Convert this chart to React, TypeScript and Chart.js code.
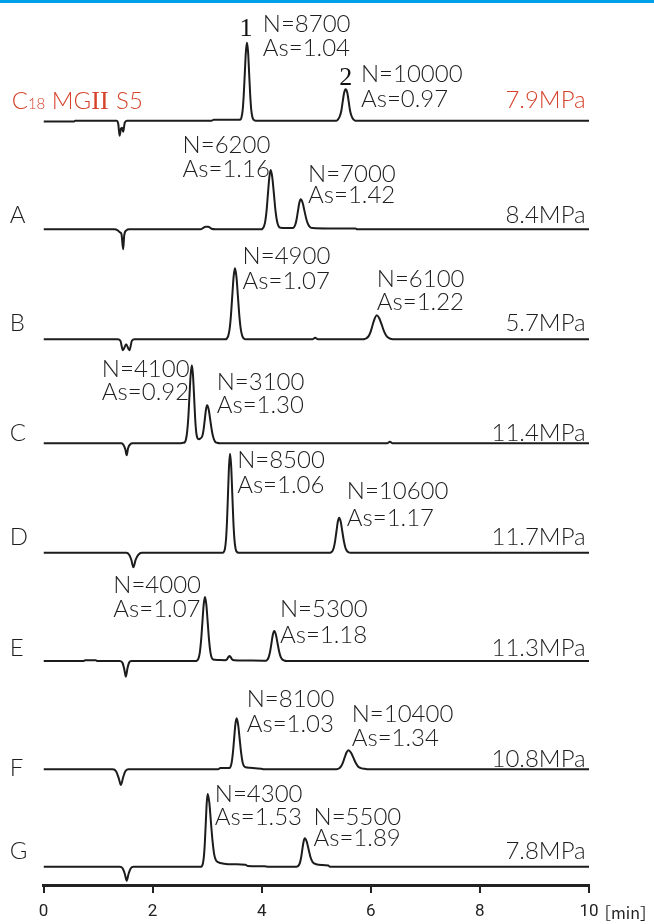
import React, { useEffect, useRef } from 'react';
import { Chart, registerables } from 'chart.js';

Chart.register(...registerables);

// ---------- axis ----------
const X_MIN = 0;
const X_MAX = 10;
const X_TICKS = [0, 2, 4, 6, 8, 10];
const X_UNIT = '［min］';

// ---------- chromatograms: [time (min), signal] ----------
const TRACE_C18: number[][] = [
  [0, -0.8], [0.56, -0.8], [0.58, 0], [1.34, 0], [1.37, -3], [1.395, -15], [1.42, -8], [1.44, -7], [1.46, -11], [1.49, -2], [1.53, 0],
  [3.08, 0], [3.12, 1], [3.58, 1], [3.61, 1.2], [3.63, 3.5], [3.65, 10], [3.67, 25], [3.69, 47], [3.71, 69], [3.73, 78],
  [3.75, 69], [3.77, 47], [3.79, 25], [3.81, 10], [3.83, 3.5], [3.85, 1], [3.89, 0],
  [5.37, 0], [5.40, 1.4], [5.43, 4.2], [5.46, 10], [5.485, 19], [5.51, 27.7], [5.54, 31.4], [5.57, 27.7], [5.595, 19],
  [5.62, 10], [5.65, 4.2], [5.68, 1.4], [5.72, 0], [10, 0],
];
const TRACE_A: number[][] = [
  [0, 0], [1.30, 0], [1.36, -1], [1.40, -3], [1.43, -5], [1.46, -20], [1.48, -6], [1.52, -1], [1.57, 0],
  [2.88, 0], [2.93, 1.5], [2.97, 2.5], [3.02, 2.5], [3.08, 0.5], [3.15, 0],
  [4.0, 0], [4.015, 0.7], [4.04, 2.7], [4.065, 8], [4.09, 19], [4.115, 36], [4.14, 52], [4.165, 59.3], [4.194, 52],
  [4.223, 36], [4.252, 19], [4.281, 8], [4.31, 3], [4.345, 1.5], [4.45, 1.2],
  [4.565, 1.3], [4.59, 2], [4.615, 4.5], [4.64, 10], [4.665, 18.5], [4.69, 26.5], [4.715, 30], [4.75, 26.5], [4.785, 18.2],
  [4.82, 9.8], [4.855, 4.5], [4.89, 2], [4.935, 1.2], [5.2, 0.8], [5.72, 0.8], [5.75, 0], [10, 0],
];
const TRACE_B: number[][] = [
  [0, 0], [1.36, 0], [1.41, -1.5], [1.455, -11], [1.515, -5], [1.575, -11], [1.62, -1.5], [1.67, 0],
  [3.34, 0], [3.36, 0.8], [3.385, 3.2], [3.41, 9.6], [3.435, 23], [3.46, 43], [3.485, 62.5], [3.51, 71], [3.537, 62.5],
  [3.564, 43], [3.591, 23], [3.618, 9.6], [3.645, 3.2], [3.672, 0.8], [3.71, 0],
  [4.93, 0], [4.98, 1.5], [5.03, 0],
  [5.86, 0], [5.885, 0.3], [5.92, 1.1], [5.96, 3.2], [5.9975, 7.7], [6.035, 14.6], [6.0725, 21], [6.11, 24], [6.155, 21],
  [6.2, 14.6], [6.245, 7.7], [6.29, 3.2], [6.335, 1.1], [6.38, 0.3], [6.42, 0], [10, 0],
];
const TRACE_C: number[][] = [
  [0, 0], [1.43, 0], [1.47, -2], [1.5, -6], [1.525, -12], [1.55, -5], [1.59, -1], [1.63, 0],
  [2.51, 0], [2.56, 0.5], [2.588, 0.9], [2.61, 3.5], [2.632, 10.9], [2.654, 25], [2.676, 47.6], [2.698, 68.6], [2.72, 78],
  [2.74, 68.6], [2.76, 47.6], [2.78, 25], [2.8, 11], [2.82, 5.5], [2.85, 4], [2.88, 5], [2.91, 7], [2.9325, 13], [2.955, 23],
  [2.9775, 33.5], [3.0, 38], [3.029, 33.5], [3.058, 23], [3.087, 12.3], [3.116, 5.3], [3.145, 1.7], [3.18, 0.5], [3.24, 0],
  [6.3, 0], [6.35, 1.5], [6.4, 0], [10, 0],
];
const TRACE_D: number[][] = [
  [0, 0], [1.52, 0], [1.57, -2], [1.61, -7], [1.646, -14.6], [1.69, -7], [1.74, -2], [1.8, 0],
  [3.29, 0], [3.309, 1.1], [3.3275, 4.4], [3.346, 13.4], [3.3645, 32], [3.383, 60], [3.4015, 87], [3.42, 99], [3.44, 87],
  [3.46, 60], [3.48, 32], [3.5, 13.4], [3.52, 4.4], [3.54, 1.1], [3.58, 0],
  [5.25, 0], [5.27, 0.4], [5.295, 1.5], [5.32, 4.7], [5.345, 11.4], [5.37, 21.2], [5.395, 30.9], [5.42, 35], [5.449, 30.9],
  [5.478, 21.2], [5.507, 11.4], [5.536, 4.7], [5.565, 1.5], [5.594, 0.4], [5.63, 0], [10, 0],
];
const TRACE_E: number[][] = [
  [0, 0], [0.74, 0], [0.76, 0.8], [0.96, 0.8], [0.98, 0], [1.4, 0], [1.45, -2], [1.48, -8], [1.51, -15.7], [1.54, -7], [1.57, -1.5], [1.61, 0],
  [2.8, 0], [2.819, 0.7], [2.8425, 2.8], [2.866, 8.7], [2.8895, 20.8], [2.913, 38.8], [2.9365, 56.4], [2.96, 64], [2.985, 56.4],
  [3.01, 38.8], [3.035, 20.8], [3.06, 8.7], [3.085, 3], [3.11, 1.5], [3.2, 1], [3.33, 0.8],
  [3.36, 1.5], [3.39, 4], [3.41, 5], [3.43, 4], [3.46, 1.5], [3.5, 0.8], [3.7, 0.5], [4.03, 0.3],
  [4.08, 0.3], [4.105, 1.3], [4.13, 4.1], [4.155, 9.8], [4.18, 18.2], [4.205, 26.5], [4.23, 30], [4.2595, 26.5], [4.289, 18.2],
  [4.3185, 9.8], [4.348, 4.1], [4.3775, 1.5], [4.41, 0.6], [4.45, 0], [10, 0],
];
const TRACE_F: number[][] = [
  [0, 0], [1.27, 0], [1.33, -2], [1.38, -9], [1.42, -15.7], [1.46, -8], [1.5, -2], [1.55, 0],
  [3.2, 0], [3.24, 1.2], [3.38, 1.2], [3.405, 1.2], [3.4275, 2.5], [3.45, 6.9], [3.4725, 16.6], [3.495, 31], [3.5175, 45], [3.54, 51],
  [3.5675, 45], [3.595, 31], [3.6225, 16.6], [3.65, 6.9], [3.6775, 3], [3.705, 2], [3.79, 1.5], [3.99, 0.5], [4.04, 0],
  [5.37, 0], [5.38, 0.2], [5.415, 0.8], [5.45, 2.6], [5.485, 6.2], [5.52, 11.6], [5.555, 16.8], [5.59, 19], [5.635, 16.8],
  [5.68, 11.6], [5.725, 6.2], [5.77, 2.6], [5.815, 1.2], [5.89, 0.5], [5.95, 0], [10, 0],
];
const TRACE_G: number[][] = [
  [0, 0], [1.4, 0], [1.45, -1.5], [1.49, -7], [1.525, -14], [1.56, -7], [1.6, -1.5], [1.65, 0],
  [2.89, 0], [2.905, 0.8], [2.9225, 3.3], [2.94, 10], [2.9575, 23.6], [2.975, 44], [2.9925, 64], [3.01, 72.7], [3.04, 64],
  [3.07, 44], [3.1, 25], [3.13, 12], [3.16, 6.5], [3.2, 4.5], [3.31, 3], [3.5, 2.4], [3.7, 2], [3.74, 0.8], [4.05, 0.5], [4.12, 0],
  [4.64, 0], [4.655, 0.3], [4.6775, 1.3], [4.7, 3.8], [4.7225, 9.2], [4.745, 17.3], [4.7675, 25], [4.79, 28.4], [4.825, 25],
  [4.86, 17.3], [4.895, 9.5], [4.93, 5], [4.97, 3], [5.04, 2], [5.22, 1.2], [5.25, 0], [10, 0],
];
const TRACES = [TRACE_C18, TRACE_A, TRACE_B, TRACE_C, TRACE_D, TRACE_E, TRACE_F, TRACE_G];

// ---------- text ----------
const COLUMN_NAME = ['C', '18', ' MG', 'II', ' S5'];
const TRACE_LETTERS = ['', 'A', 'B', 'C', 'D', 'E', 'F', 'G'];
const PRESSURES = ['7.9MPa', '8.4MPa', '5.7MPa', '11.4MPa', '11.7MPa', '11.3MPa', '10.8MPa', '7.8MPa'];
const PLATES = [
  ['8700', '10000'], ['6200', '7000'], ['4900', '6100'], ['4100', '3100'],
  ['8500', '10600'], ['4000', '5300'], ['8100', '10400'], ['4300', '5500'],
];
const ASYM = [
  ['1.04', '0.97'], ['1.16', '1.42'], ['1.07', '1.22'], ['0.92', '1.30'],
  ['1.06', '1.17'], ['1.07', '1.18'], ['1.03', '1.34'], ['1.53', '1.89'],
];
const PEAK_NUMBERS = ['1', '2'];

// ---------- layout (signal units = px) ----------
const TRACE_BASELINES = [764.3, 655.7, 545.7, 441.7, 332.3, 224, 115.7, 18.3];
// [time of text left edge, height of "N=" baseline, height of "As=" baseline]
const NOTE_POS = [
  [[4.02, 88.4, 64.7], [5.82, 39, 14]],
  [[2.55, 76, 52.6], [4.85, 47.6, 26]],
  [[3.65, 75, 50], [6.11, 52.6, 29.3]],
  [[1.07, 66.6, 43.3], [3.175, 53.3, 30]],
  [[3.55, 84.4, 59.4], [5.56, 53.4, 27]],
  [[1.28, 67.7, 44.3], [4.335, 44.3, 18.3]],
  [[3.725, 62.6, 37.6], [5.65, 47.6, 23.3]],
  [[3.14, 65, 41.7], [4.95, 41.7, 20.7]],
];
const PEAK_NUMBER_POS = [[3.71, 84.7], [5.54, 35.7]];
const LETTER_H = [11.4, 6.8, 8.8, 2.8, 8.2, 5.5, -7, 8.2];
const PRESSURE_H = [12.4, 6.8, 8.8, 2.8, 8.2, 5.5, 2.8, 8.2];
const LEFT_T = -0.62;
const RIGHT_T = 9.94;

const SANS = 'Lato, "Liberation Sans", sans-serif';
const SERIF = '"Liberation Serif", "DejaVu Serif", serif';
const TICK_FONT = '"Liberation Sans Narrow", "Roboto", sans-serif';
const INK = '#1e1e1e';
const RED = '#d6432c';

const textPlugin = {
  id: 'chromaText',
  afterDatasetsDraw(chart: any) {
    const { ctx, scales } = chart;
    const x = scales.x;
    const y = scales.y;
    const px = (t: number) => x.getPixelForValue(t);
    const py = (i: number, h: number) => y.getPixelForValue(TRACE_BASELINES[i] + h);
    ctx.save();
    ctx.textBaseline = 'alphabetic';
    TRACES.forEach((_, i) => {
      const isRef = i === 0;
      ctx.textAlign = 'left';
      if (isRef) {
        ctx.fillStyle = RED;
        let cx = px(LEFT_T) + 2;
        const by = py(i, LETTER_H[i]);
        COLUMN_NAME.forEach((part, k) => {
          let f = `300 24px ${SANS}`;
          if (k === 1) f = `300 15px ${SANS}`;
          if (k === 3) f = `26px ${SERIF}`;
          ctx.font = f;
          ctx.fillText(part, cx, by);
          cx += ctx.measureText(part).width + (k === 3 ? 1 : 0);
        });
      } else {
        ctx.fillStyle = INK;
        ctx.font = `300 24px ${SANS}`;
        ctx.fillText(TRACE_LETTERS[i], px(LEFT_T), py(i, LETTER_H[i]));
      }
      ctx.textAlign = 'right';
      ctx.fillStyle = isRef ? RED : INK;
      ctx.font = `300 24px ${SANS}`;
      ctx.fillText(PRESSURES[i], px(RIGHT_T), py(i, PRESSURE_H[i]));
      ctx.textAlign = 'left';
      ctx.fillStyle = INK;
      NOTE_POS[i].forEach((p, k) => {
        ctx.fillText('N=' + PLATES[i][k], px(p[0]), py(i, p[1]));
        ctx.fillText('As=' + ASYM[i][k], px(p[0]), py(i, p[2]));
      });
      if (isRef) {
        ctx.font = `26px ${SERIF}`;
        ctx.fillStyle = '#111';
        ctx.textAlign = 'center';
        PEAK_NUMBER_POS.forEach((p, k) => {
          ctx.fillText(PEAK_NUMBERS[k], px(p[0]), py(i, p[1]));
        });
      }
    });
    ctx.textAlign = 'left';
    ctx.fillStyle = '#222';
    ctx.font = `16px "Noto Sans CJK JP", ${TICK_FONT}`;
    ctx.fillText(X_UNIT, x.getPixelForValue(X_MAX) + 6, x.bottom - 5);
    ctx.restore();
  },
};

export default function App() {
  const ref = useRef<HTMLCanvasElement>(null);
  useEffect(() => {
    const canvas = ref.current;
    if (!canvas) return;
    const datasets = TRACES.map((tr, i) => ({
      data: tr.map(([t, s]) => ({ x: t, y: TRACE_BASELINES[i] + s })),
      borderColor: '#1c1c1c',
      borderWidth: 2,
      pointRadius: 0,
      fill: false,
      cubicInterpolationMode: 'monotone' as const,
    }));
    const chart = new Chart(canvas, {
      type: 'line',
      data: { datasets },
      options: {
        responsive: false,
        animation: false,
        events: [],
        layout: { padding: { left: 43.5, right: 65, top: 0, bottom: 0 } },
        plugins: { legend: { display: false }, tooltip: { enabled: false } },
        scales: {
          x: {
            type: 'linear',
            min: X_MIN,
            max: X_MAX,
            afterFit: (s: any) => { s.height = 39; },
            afterBuildTicks: (s: any) => { s.ticks = X_TICKS.map((v) => ({ value: v })); },
            ticks: {
              color: '#222',
              font: { size: 17, family: TICK_FONT },
              padding: 9,
              maxRotation: 0,
              autoSkip: false,
            },
            grid: { display: true, drawOnChartArea: false, drawTicks: true, tickLength: 8, color: '#222', lineWidth: 2 },
            border: { display: true, color: '#222', width: 3 },
          },
          y: { type: 'linear', min: 0, max: 885, display: false },
        },
      },
      plugins: [textPlugin],
    });
    return () => chart.destroy();
  }, []);
  return (
    <div style={{ position: 'absolute', left: 0, top: 0, width: 654, height: 924, background: '#fff' }}>
      <canvas ref={ref} width={654} height={924} style={{ display: 'block' }} />
      <div style={{ position: 'absolute', left: 0, top: 0, width: 654, height: 3, background: '#00a0e9' }} />
    </div>
  );
}
